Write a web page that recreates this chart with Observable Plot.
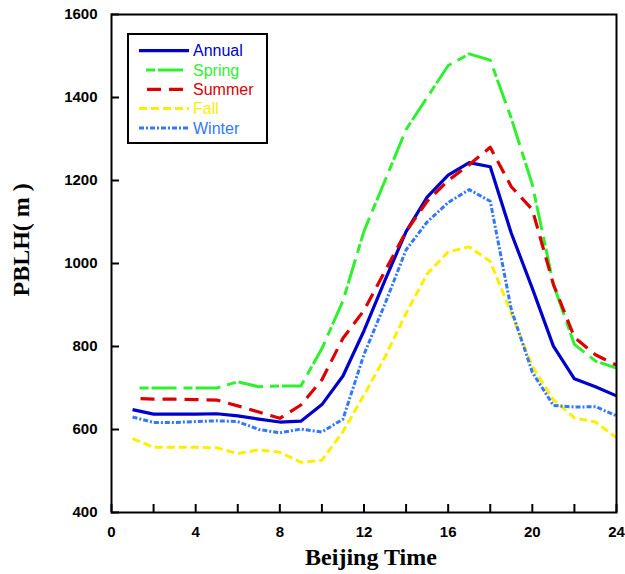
<!DOCTYPE html>
<html>
<head>
<meta charset="utf-8">
<script src="https://cdn.jsdelivr.net/npm/d3@7"></script>
<script src="https://cdn.jsdelivr.net/npm/@observablehq/plot@0.6"></script>
<style>
  body { margin: 0; background: #fff; }
  #chart { width: 625px; height: 574px; }
</style>
</head>
<body>
<div id="chart"></div>
<script>
// ---- data ----
const hours  = [1, 2, 3, 4, 5, 6, 7, 8, 9, 10, 11, 12, 13, 14, 15, 16, 17, 18, 19, 20, 21, 22, 23, 24];
const annual = [648, 637, 637, 637, 638, 633, 625, 618, 620, 660, 729, 838, 960, 1077, 1160, 1213, 1243, 1233, 1073, 940, 801, 722, 703, 681];
const spring = [700, 700, 700, 700, 700, 715, 703, 705, 705, 795, 910, 1078, 1200, 1323, 1400, 1477, 1505, 1490, 1350, 1190, 950, 805, 765, 748];
const summer = [675, 673, 673, 672, 671, 657, 642, 627, 659, 720, 820, 887, 982, 1077, 1150, 1200, 1238, 1280, 1185, 1130, 950, 822, 780, 755];
const fall   = [578, 557, 557, 557, 556, 542, 551, 545, 521, 526, 595, 683, 775, 880, 975, 1028, 1040, 1005, 880, 752, 672, 628, 618, 580];
const winter = [630, 617, 617, 619, 621, 619, 600, 592, 601, 594, 625, 781, 903, 1033, 1100, 1147, 1178, 1150, 889, 738, 658, 654, 655, 633];

const seriesNames  = ["Annual", "Spring", "Summer", "Fall", "Winter"];
const seriesValues = [annual, spring, summer, fall, winter];
const xTicks = [0, 2, 4, 6, 8, 10, 12, 14, 16, 18, 20, 22, 24];
const yTicks = [400, 600, 800, 1000, 1200, 1400, 1600];
const xTitle = "Beijing Time";
const yTitle = "PBLH( m )";

// ---- styles ----
const colors  = ["#0000cc", "#2ef02e", "#dd0000", "#ffee00", "#3377ff"];
const dashes  = ["none", "9,3,25,7", "14,8", "8,4", "5,2,2,2"];
const offsets = [0, 37, 14, 0, 0];
const widths  = [3.2, 3, 3.2, 3, 3];

const W = 625, H = 574, mL = 111, mR = 9, mT = 14, mB = 62;
const xDomain = [0, 24], yDomain = [400, 1600];
const tickLen = 8;
// tick length expressed in data units of each scale
const xUnitsPerPx = (xDomain[1] - xDomain[0]) / (W - mL - mR);
const yUnitsPerPx = (yDomain[1] - yDomain[0]) / (H - mT - mB);

const lineMarks = seriesNames.map((name, k) =>
  Plot.line(hours.map((h, i) => ({h, v: seriesValues[k][i]})), {
    x: "h", y: "v",
    stroke: colors[k], strokeWidth: widths[k],
    strokeDasharray: dashes[k], strokeDashoffset: offsets[k],
    strokeLinecap: "butt", strokeLinejoin: "round"
  })
);

const serif = "'Liberation Serif', 'Times New Roman', serif";

const chart = Plot.plot({
  width: W, height: H,
  marginLeft: mL, marginRight: mR, marginTop: mT, marginBottom: mB,
  x: {domain: xDomain},
  y: {domain: yDomain},
  style: {
    fontFamily: "'Liberation Sans', Arial, sans-serif",
    fontSize: "15px", fontWeight: "bold", color: "black", background: "white"
  },
  marks: [
    ...lineMarks,
    Plot.ruleX(xTicks, {x: d => d, y1: yDomain[0], y2: yDomain[0] + tickLen * yUnitsPerPx, stroke: "black", strokeWidth: 2}),
    Plot.ruleY(yTicks, {y: d => d, x1: xDomain[0], x2: xDomain[0] + tickLen * xUnitsPerPx, stroke: "black", strokeWidth: 2}),
    Plot.frame({stroke: "black", strokeWidth: 2}),
    Plot.axisX({ticks: xTicks, tickFormat: d => d % 4 === 0 ? String(d) : "", tickSize: 0, tickPadding: 14, label: null}),
    Plot.axisY({ticks: yTicks, tickFormat: d => String(d), tickSize: 0, tickPadding: 14, label: null}),
    Plot.text([xTitle], {text: d => d, frameAnchor: "bottom", textAnchor: "middle", lineAnchor: "middle", dx: 7, dy: 45,
      fontFamily: serif, fontSize: 24, fontWeight: "bold", fill: "black"}),
    Plot.text([yTitle], {text: d => d, frameAnchor: "left", textAnchor: "start", lineAnchor: "middle", rotate: -90, dx: -90, dy: 33,
      fontFamily: serif, fontSize: 24, fontWeight: "bold", fill: "black"})
  ]
});

const svg = d3.select(chart);

// legend
const lg = svg.append("g").attr("aria-label", "legend");
lg.append("rect").attr("x", 128).attr("y", 34).attr("width", 139).attr("height", 109)
  .attr("fill", "white").attr("stroke", "black").attr("stroke-width", 2);
seriesNames.forEach((name, k) => {
  const y = 50.7 + k * 19.3;
  lg.append("line").attr("x1", 139).attr("x2", 189).attr("y1", y).attr("y2", y)
    .attr("stroke", colors[k]).attr("stroke-width", widths[k])
    .attr("stroke-dasharray", dashes[k]).attr("stroke-dashoffset", offsets[k]);
  lg.append("text").attr("x", 193).attr("y", y).attr("dy", "0.35em")
    .style("text-anchor", "start")
    .attr("fill", colors[k]).attr("font-family", "'Liberation Sans', Arial, sans-serif")
    .attr("font-size", 16).attr("font-weight", "normal").text(name);
});

document.getElementById("chart").appendChild(chart);
</script>
</body>
</html>
